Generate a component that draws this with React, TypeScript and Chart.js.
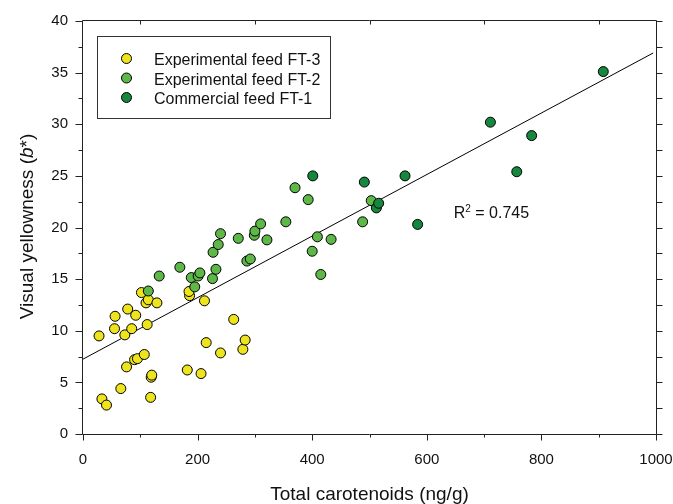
import React, { useEffect, useRef } from 'react';
import { Chart, registerables } from 'chart.js';

Chart.register(...registerables);

const FONT = "'Liberation Sans', Arial, Helvetica, sans-serif";

// Experimental feed FT-3 (yellow)
const ft3X = [28, 33, 41, 56, 55, 66, 73, 78, 76, 85, 92, 90, 95, 107, 102, 110, 114, 112, 129, 119, 120, 118, 182, 186, 185, 206, 212, 215, 240, 263, 279, 283];
const ft3Y = [9.5, 3.4, 2.8, 11.4, 10.2, 4.4, 9.6, 12.1, 6.5, 10.2, 11.5, 7.2, 7.3, 7.7, 13.7, 12.7, 13.0, 10.6, 12.7, 5.5, 5.7, 3.55, 6.2, 13.4, 13.8, 5.85, 12.9, 8.85, 7.85, 11.1, 8.2, 9.1];

// Experimental feed FT-2 (light green)
const ft2X = [114, 133, 169, 189, 195, 201, 204, 226, 232, 227, 236, 240, 271, 286, 292, 299, 300, 310, 321, 354, 370, 393, 400, 409, 415, 433, 488, 503];
const ft2Y = [13.85, 15.3, 16.15, 15.15, 14.25, 15.3, 15.6, 15.05, 15.95, 17.6, 18.35, 19.4, 18.95, 16.75, 16.95, 19.25, 19.65, 20.35, 18.8, 20.55, 23.85, 22.7, 17.7, 19.1, 15.45, 18.85, 20.55, 22.6];

// Commercial feed FT-1 (dark green)
const ft1X = [401, 491, 512, 516, 562, 584, 711, 757, 783, 908];
const ft1Y = [25.0, 24.4, 21.9, 22.35, 25.0, 20.3, 30.2, 25.4, 28.9, 35.1];

// Regression line end points
const regX = [0, 995];
const regY = [7.25, 36.9];

const xMinorTicks = [100, 300, 500, 700, 900];
const yMajorTicks = [0, 5, 10, 15, 20, 25, 30, 35, 40];
const yMinorTicks = [2.5, 7.5, 12.5, 17.5, 22.5, 27.5, 32.5, 37.5];
const xMajorTicks = [0, 200, 400, 600, 800, 1000];

const seriesLabels = ['Experimental feed FT-3', 'Experimental feed FT-2', 'Commercial feed FT-1'];
const seriesColors = ['#EEE41E', '#5DB847', '#16873F'];

const r2Text = ' = 0.745';
const r2Pos = { x: 647, y: 20.9 };

const xTitle = 'Total carotenoids (ng/g)';
const yTitleParts = ['Visual yellowness (', 'b', '*)'];

function toPoints(xs: number[], ys: number[]) {
  return xs.map((x, i) => ({ x, y: ys[i] }));
}

const decorPlugin = {
  id: 'decor',
  afterDatasetsDraw(chart: any) {
    const { ctx, chartArea: a, scales } = chart;
    const xs = scales.x;
    const ys = scales.y;
    const L = Math.round(a.left) - 0.5;
    const R = Math.round(a.right) + 0.5;
    const T = Math.round(a.top) - 0.5;
    const B = Math.round(a.bottom) + 0.5;
    ctx.save();
    ctx.strokeStyle = '#222';
    ctx.lineWidth = 1;
    ctx.beginPath();
    ctx.rect(L, T, R - L, B - T);
    yMajorTicks.forEach((v) => {
      const y = Math.round(ys.getPixelForValue(v)) + 0.5;
      ctx.moveTo(L, y); ctx.lineTo(L - 7, y);
    });
    yMinorTicks.forEach((v) => {
      const y = Math.round(ys.getPixelForValue(v)) + 0.5;
      ctx.moveTo(L, y); ctx.lineTo(L - 4, y);
    });
    [...yMajorTicks, ...yMinorTicks].forEach((v) => {
      const y = Math.round(ys.getPixelForValue(v)) + 0.5;
      ctx.moveTo(R, y); ctx.lineTo(R + 6, y);
    });
    xMajorTicks.forEach((v) => {
      const x = Math.round(xs.getPixelForValue(v)) + 0.5;
      ctx.moveTo(x, B); ctx.lineTo(x, B + 6);
    });
    xMinorTicks.forEach((v) => {
      const x = Math.round(xs.getPixelForValue(v)) + 0.5;
      ctx.moveTo(x, B); ctx.lineTo(x, B + 3);
      ctx.moveTo(x, T); ctx.lineTo(x, T + 4);
    });
    ctx.stroke();

    // legend
    const bx = 97.5, by = 36.5, bw = 233, bh = 82;
    ctx.strokeStyle = '#333';
    ctx.strokeRect(bx, by, bw, bh);
    ctx.font = `16px ${FONT}`;
    ctx.textBaseline = 'alphabetic';
    ctx.textAlign = 'left';
    seriesLabels.forEach((lab, i) => {
      const cy = 58.5 + i * 19.5;
      ctx.beginPath();
      ctx.arc(126.5, cy, 5, 0, Math.PI * 2);
      ctx.fillStyle = seriesColors[i];
      ctx.fill();
      ctx.strokeStyle = '#000';
      ctx.stroke();
      ctx.fillStyle = '#111';
      ctx.fillText(lab, 154, cy + 6.5);
    });

    // R^2 annotation
    const rx = xs.getPixelForValue(r2Pos.x);
    const ry = ys.getPixelForValue(r2Pos.y);
    ctx.fillStyle = '#111';
    ctx.font = `16px ${FONT}`;
    ctx.fillText('R', rx, ry);
    const rw = ctx.measureText('R').width;
    ctx.font = `10px ${FONT}`;
    ctx.fillText('2', rx + rw, ry - 6);
    const sw = ctx.measureText('2').width;
    ctx.font = `16px ${FONT}`;
    ctx.fillText(r2Text, rx + rw + sw, ry);

    // x title
    ctx.font = `19px ${FONT}`;
    ctx.textAlign = 'center';
    ctx.fillText(xTitle, (a.left + a.right) / 2, 500);

    // y title
    ctx.save();
    ctx.translate(33, (a.top + a.bottom) / 2 - 1);
    ctx.rotate(-Math.PI / 2);
    ctx.textAlign = 'left';
    const fonts = [`19px ${FONT}`, `italic 19px ${FONT}`, `19px ${FONT}`];
    let total = 0;
    const widths = yTitleParts.map((p, i) => {
      ctx.font = fonts[i];
      const w = ctx.measureText(p).width;
      total += w;
      return w;
    });
    let cx = -total / 2;
    yTitleParts.forEach((p, i) => {
      ctx.font = fonts[i];
      ctx.fillText(p, cx, 0);
      cx += widths[i];
    });
    ctx.restore();

    ctx.restore();
  },
};

export default function App() {
  const ref = useRef<HTMLCanvasElement | null>(null);
  useEffect(() => {
    document.body.style.margin = '0';
    const canvas = ref.current;
    if (!canvas) return;
    const pointStyle = (i: number) => ({
      backgroundColor: seriesColors[i],
      borderColor: '#000',
      borderWidth: 1,
      pointRadius: 5,
      pointHoverRadius: 5,
      showLine: false,
    });
    const chart = new Chart(canvas, {
      type: 'scatter',
      data: {
        datasets: [
          { label: seriesLabels[0], data: toPoints(ft3X, ft3Y), order: 3, ...pointStyle(0) },
          { label: seriesLabels[1], data: toPoints(ft2X, ft2Y), order: 2, ...pointStyle(1) },
          { label: seriesLabels[2], data: toPoints(ft1X, ft1Y), order: 1, ...pointStyle(2) },
          {
            label: 'fit',
            data: toPoints(regX, regY),
            type: 'line',
            order: 4,
            showLine: true,
            borderColor: '#000',
            borderWidth: 1,
            pointRadius: 0,
            fill: false,
          } as any,
        ],
      },
      options: {
        animation: false,
        responsive: false,
        devicePixelRatio: 1,
        layout: { padding: { left: 0, top: 21, right: 17, bottom: 0 } },
        plugins: { legend: { display: false }, tooltip: { enabled: false } },
        events: [],
        scales: {
          x: {
            type: 'linear',
            position: 'bottom',
            min: 0,
            max: 1000,
            grid: { display: false, drawTicks: false },
            border: { display: false },
            ticks: {
              stepSize: 200, padding: 17, color: '#111', font: { size: 15, family: FONT }, maxRotation: 0, autoSkip: false,
              callback: (v: any) => String(v),
            },
            afterFit: (s: any) => { s.height = 70; s.paddingLeft = 0; s.paddingRight = 0; },
          },
          y: {
            type: 'linear',
            position: 'left',
            min: 0,
            max: 40,
            grid: { display: false, drawTicks: false },
            border: { display: false },
            ticks: {
              stepSize: 5, padding: 15, color: '#111', font: { size: 15, family: FONT }, autoSkip: false,
              callback: (v: any) => String(v),
            },
            afterFit: (s: any) => { s.width = 83; s.paddingTop = 0; s.paddingBottom = 0; },
          },
        },
      },
      plugins: [decorPlugin],
    });
    return () => chart.destroy();
  }, []);
  return (
    <div style={{ width: 673, height: 504 }}>
      <canvas ref={ref} width={673} height={504} style={{ display: 'block' }} />
    </div>
  );
}
